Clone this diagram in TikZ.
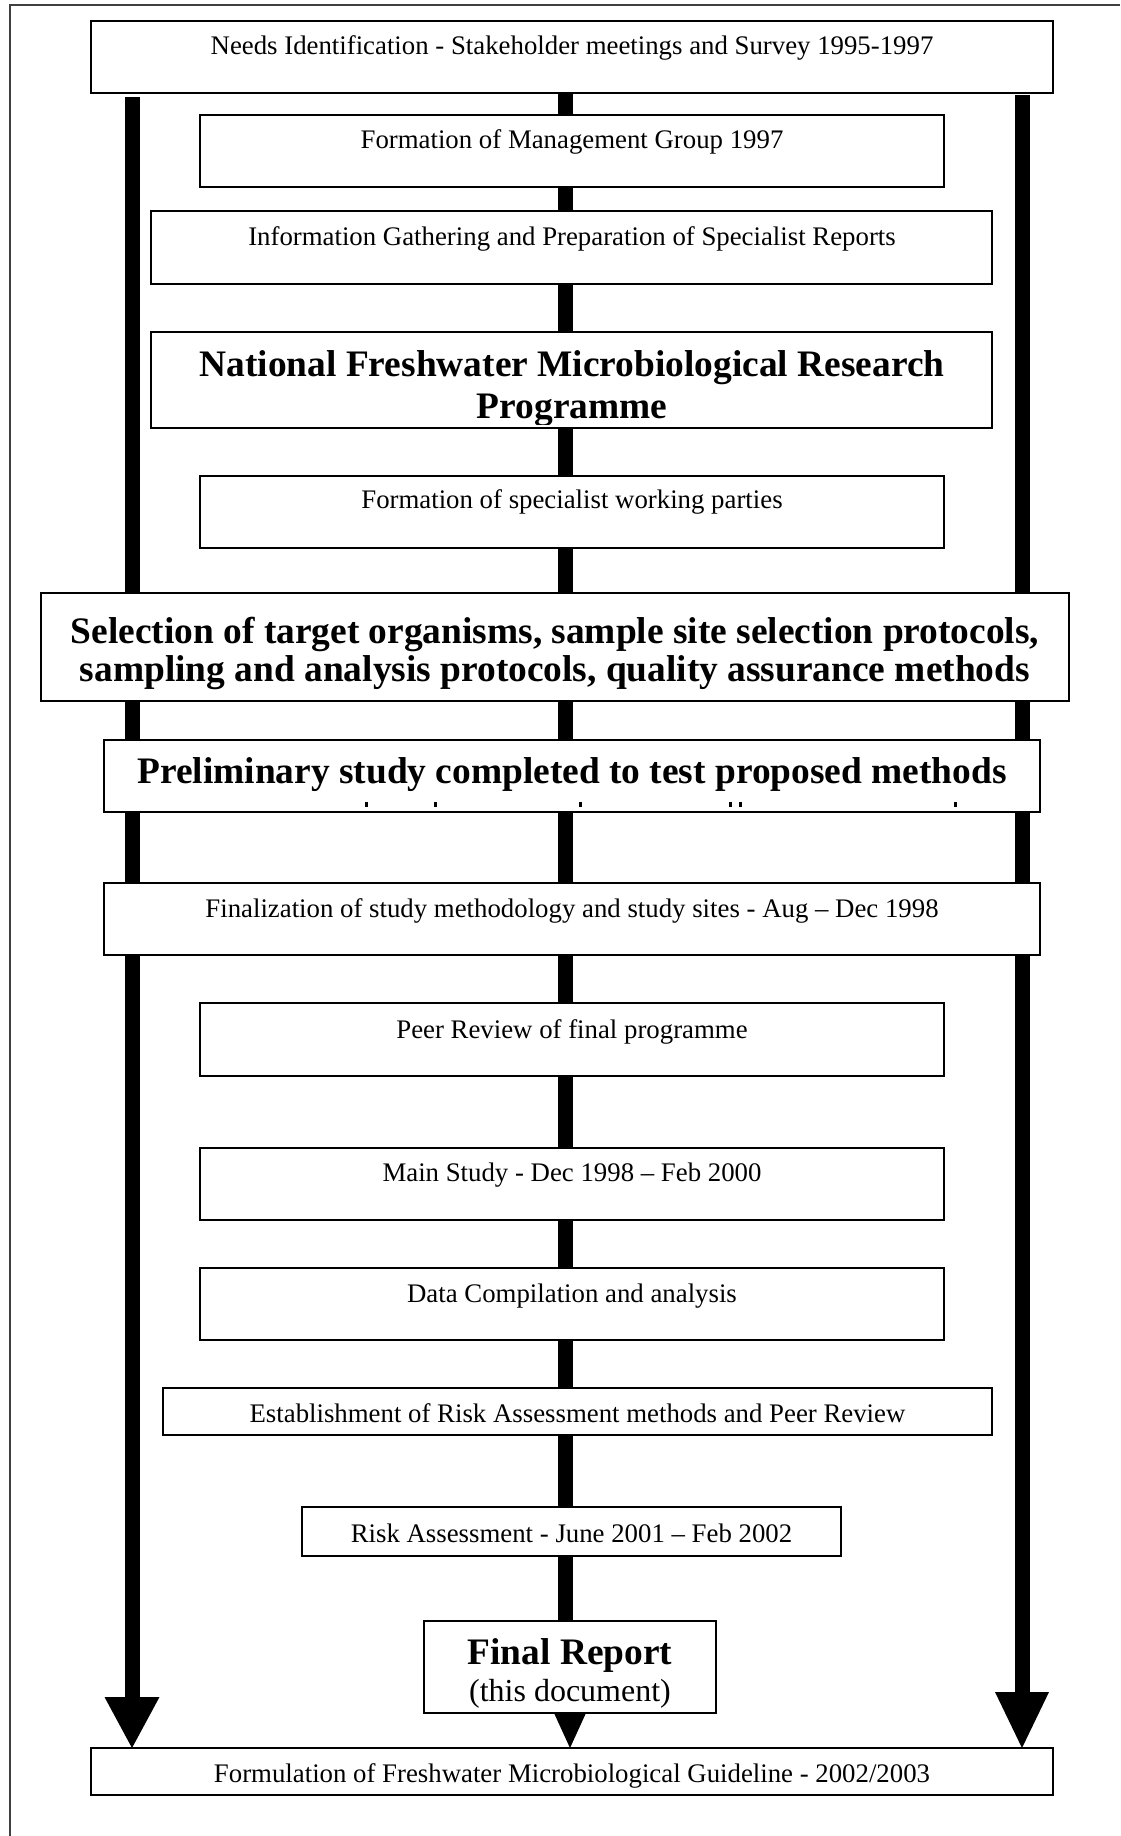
\documentclass[tikz,border=0pt]{standalone}
\usepackage{fontspec}
\setmainfont{Liberation Serif}
\newcommand\mkbox[5]{\node[box, minimum width={(#4-#2)*1pt}, minimum height={(#5-#3)*1pt}] (#1) at ({(#2+#4)/2},{(#3+#5)/2}) {};}
\begin{document}
\begin{tikzpicture}[x=1pt,y=-1pt,
  box/.style={draw=black, line width=1.6pt, fill=white, rectangle, inner sep=0pt, outer sep=0pt},
  txt/.style={anchor=base, inner sep=0pt, font=\fontsize{26.8}{30}\selectfont},
  btxt/.style={anchor=base, inner sep=0pt, font=\fontsize{37.4}{40}\selectfont\bfseries},
  bar/.style={line width=15pt, black},
  frameline/.style={line width=1.6pt, black!75}]
\useasboundingbox (0,0) rectangle (1120,1836);
% page frame (top and left edges)
\draw[frameline] (10,1836) -- (10,5) -- (1120,5);

% bar anchor coordinates
\coordinate (ltop) at (132,97);
\coordinate (lbase) at (132,1697);
\coordinate (rtop) at (1022,95);
\coordinate (rbase) at (1022,1692);
\coordinate (ctop) at (565,93);
\coordinate (cbase) at (565,1621);

% long bars
\draw[bar] (ltop) -- (lbase);
\draw[bar] (rtop) -- (rbase);
\draw[bar] (ctop) -- (cbase);

% boxes
\mkbox{needs}{91}{21}{1053}{93}
\mkbox{mgmt}{200}{115}{944}{187}
\mkbox{info}{151}{211}{992}{284}
\mkbox{natl}{151}{332}{992}{428}
\mkbox{spec}{200}{476}{944}{548}
\mkbox{sel}{41}{593}{1069}{701}
\mkbox{prelim}{104}{740}{1040}{812}
\mkbox{finz}{104}{883}{1040}{955}
\mkbox{peer}{200}{1003}{944}{1076}
\mkbox{main}{200}{1148}{944}{1220}
\mkbox{data}{200}{1268}{944}{1340}
\mkbox{estab}{163}{1388}{992}{1435}
\mkbox{risk}{302}{1507}{841}{1556}
\mkbox{report}{424}{1621}{716}{1713}
\mkbox{formul}{91}{1748}{1053}{1795}

% arrowheads
\fill[black] ([xshift=-27.5pt]lbase) -- ([xshift=27.5pt]lbase) -- (lbase |- formul.north) -- cycle;
\fill[black] ([xshift=-27pt]rbase) -- ([xshift=27pt]rbase) -- (rbase |- formul.north) -- cycle;
\fill[black] ([xshift=-16pt]report.south) -- ([xshift=16pt]report.south) -- (report.south |- formul.north) -- cycle;
\draw[line width=1.6pt] (report.south west) -- (report.south east);

% texts
\node[txt] (needs-t) at (572,55) {Needs Identification - Stakeholder meetings and Survey 1995-1997};
\node[txt] (mgmt-t) at (572,148) {Formation of Management Group 1997};
\node[txt] (info-t) at (572,245) {Information Gathering and Preparation of Specialist Reports};
\begin{scope}
\clip (153.5,334.5) rectangle (989.5,424.5);
\node[btxt] (natl-t1) at (572,376) {National Freshwater Microbiological Research};
\node[btxt] (natl-t2) at (572,418) {Programme};
\end{scope}
\node[txt] (spec-t) at (572,508) {Formation of specialist working parties};
\node[btxt] (sel-t1) at (555,643) {Selection of target organisms, sample site selection protocols,};
\node[btxt] (sel-t2) at (555,681) {sampling and analysis protocols, quality assurance methods};
\node[btxt] (prelim-t) at (572,783) {Preliminary study completed to test proposed methods};
\foreach \mx/\mw in {365/3,434/3,579/3,729/3,739/3,954/3}
  \fill[black] (\mx,802) rectangle ++(\mw,5);
\node[txt] (finz-t) at (572,917) {Finalization of study methodology and study sites - Aug – Dec 1998};
\node[txt] (peer-t) at (572,1038) {Peer Review of final programme};
\node[txt] (main-t) at (572,1181) {Main Study - Dec 1998 – Feb 2000};
\node[txt] (data-t) at (572,1302) {Data Compilation and analysis};
\node[txt] (estab-t) at (577.5,1422) {Establishment of Risk Assessment methods and Peer Review};
\node[txt] (risk-t) at (571.5,1542) {Risk Assessment - June 2001 – Feb 2002};
\begin{scope}
\clip (426,1623) rectangle (714,1709);
\node[btxt] (report-t1) at (570,1664) {Final Report};
\node[txt, font=\fontsize{32}{36}\selectfont] (report-t2) at (570,1701) {(this document)};
\end{scope}
\node[txt] (formul-t) at (572,1782) {Formulation of Freshwater Microbiological Guideline - 2002/2003};
\end{tikzpicture}
\end{document}
